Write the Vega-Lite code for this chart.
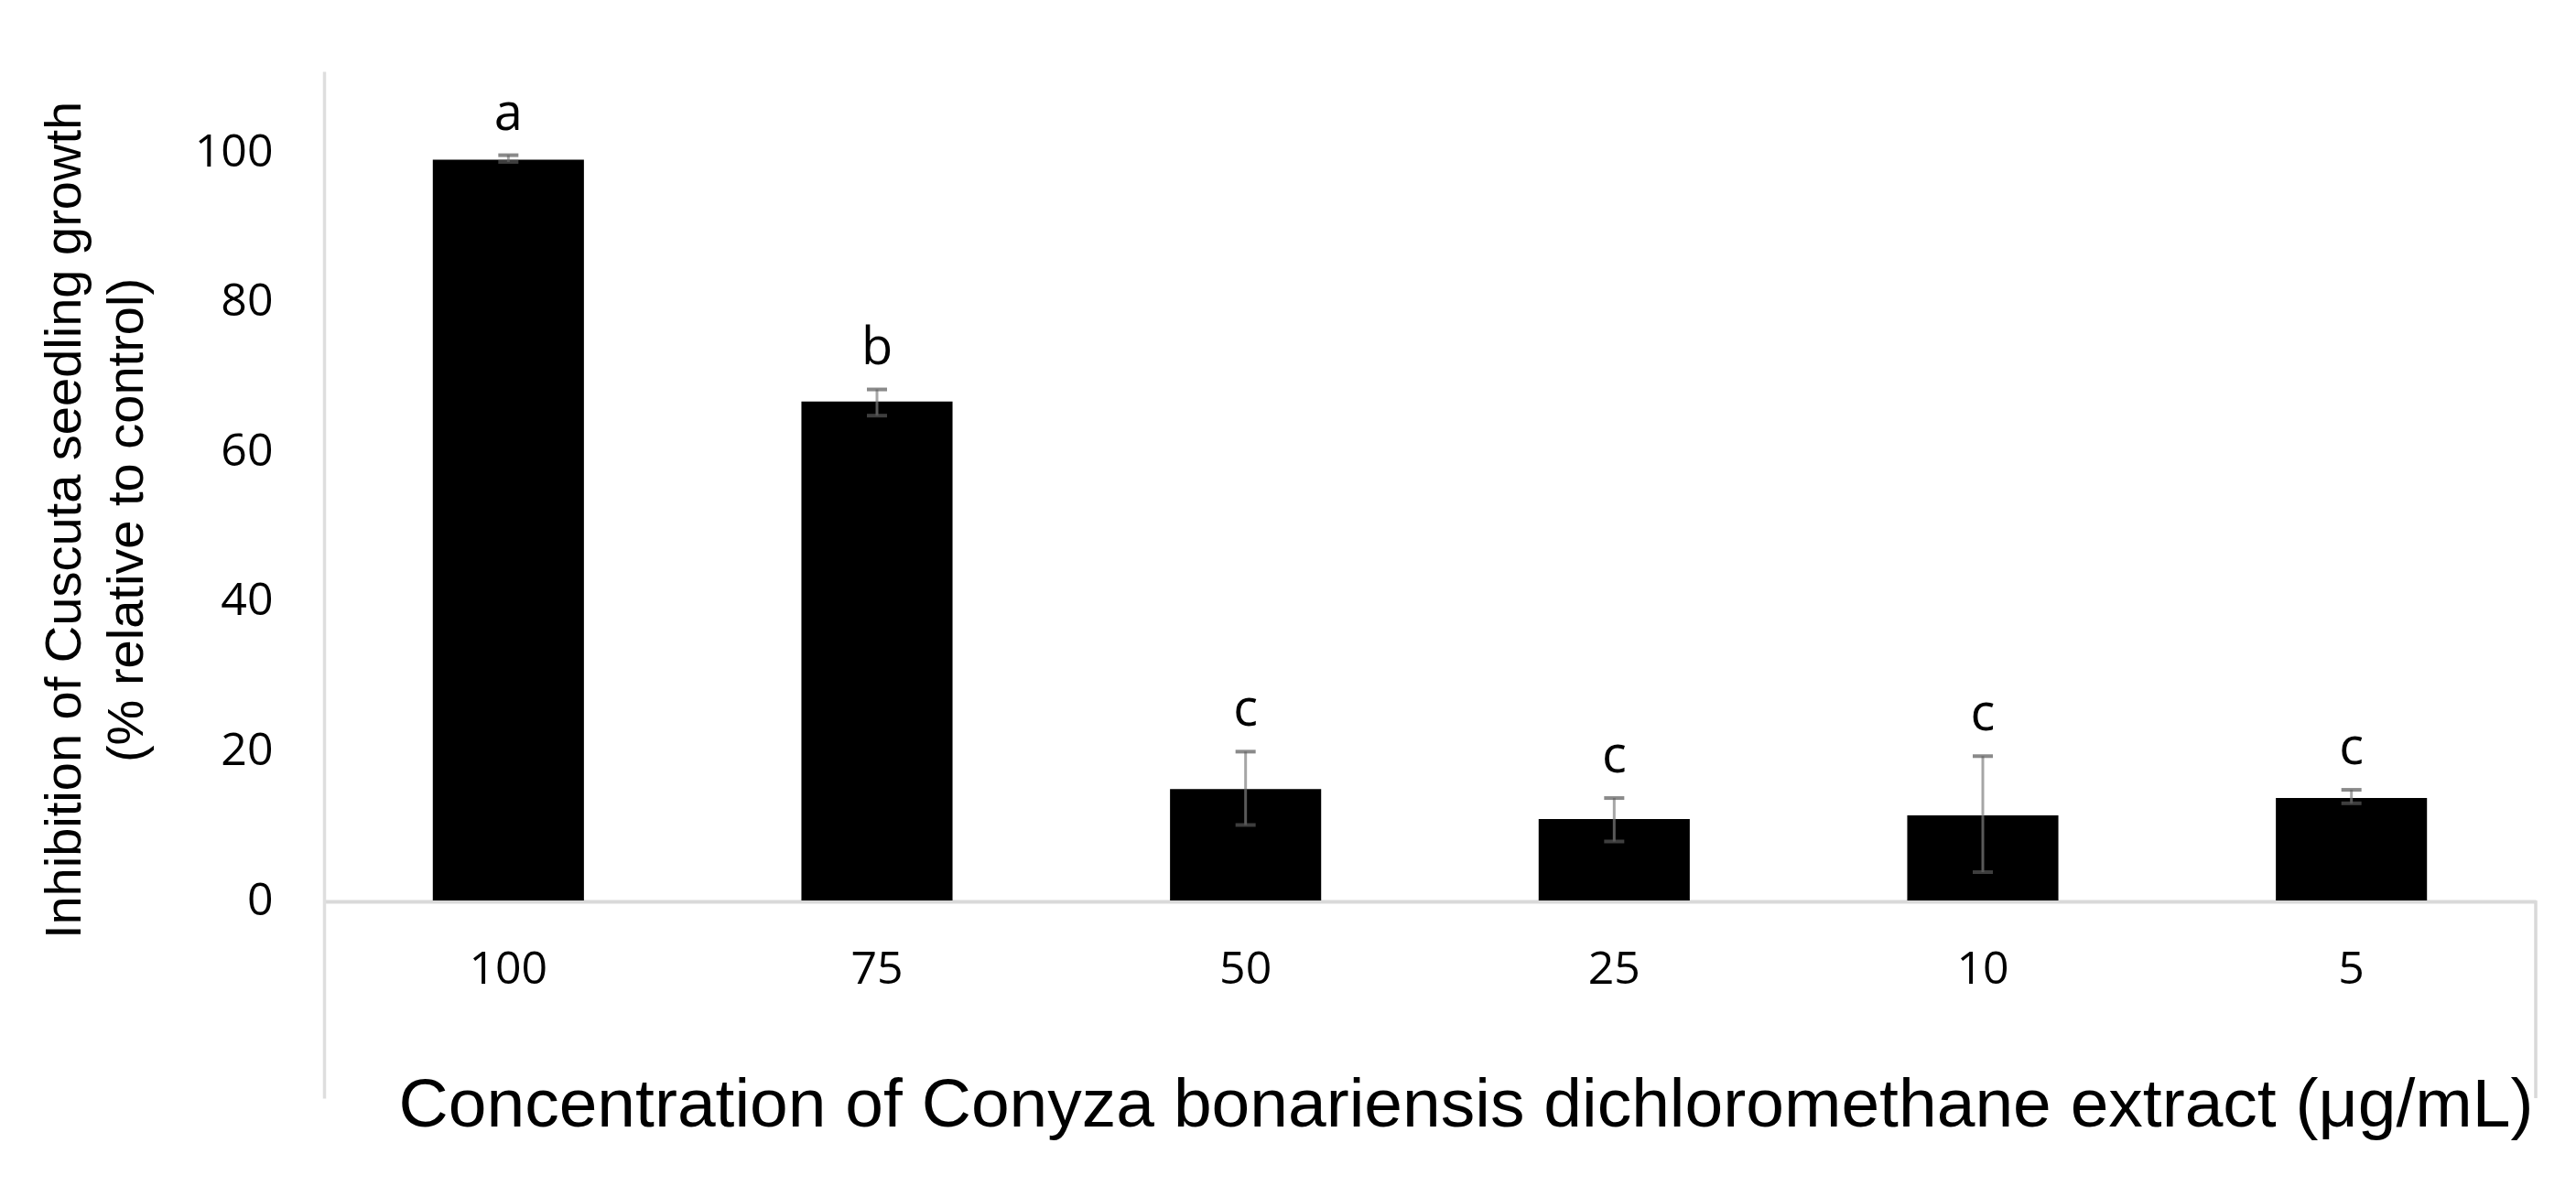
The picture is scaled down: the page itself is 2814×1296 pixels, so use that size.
{
  "$schema": "https://vega.github.io/schema/vega-lite/v6.json",
  "width": 2416,
  "height": 1122,
  "autosize": {"type": "none"},
  "padding": {"left": 354, "top": 78, "right": 44, "bottom": 96},
  "background": "white",
  "config": {"view": {"stroke": null}},
  "data": {
    "values": [
      {"conc": "100", "mean": 99.0, "lower": 98.7, "upper": 99.6, "letter": "a"},
      {"conc": "75", "mean": 66.7, "lower": 64.8, "upper": 68.3, "letter": "b"},
      {"conc": "50", "mean": 14.9, "lower": 10.1, "upper": 19.9, "letter": "c"},
      {"conc": "25", "mean": 10.9, "lower": 7.9, "upper": 13.7, "letter": "c"},
      {"conc": "10", "mean": 11.4, "lower": 3.8, "upper": 19.3, "letter": "c"},
      {"conc": "5", "mean": 13.7, "lower": 13.0, "upper": 14.8, "letter": "c"}
    ]
  },
  "encoding": {
    "x": {
      "field": "conc",
      "type": "nominal",
      "sort": null,
      "scale": {"paddingInner": 0.59, "paddingOuter": 0.295},
      "axis": {
        "title": "Concentration of Conyza bonariensis dichloromethane extract  (μg/mL)",
        "titleFont": "Liberation Sans",
        "titleFontSize": 75,
        "titleFontWeight": "normal",
        "titleColor": "black",
        "titleBaseline": "alphabetic",
        "titleAlign": "center",
        "titleX": 1247,
        "titleY": 245,
        "labelFont": "Open Sans",
        "labelFontSize": 50,
        "labelColor": "black",
        "labelAngle": 0,
        "labelPadding": 49,
        "labelBaseline": "top",
        "ticks": false,
        "domain": true,
        "domainColor": "#d9d9d9",
        "domainWidth": 4,
        "offset": -215
      }
    }
  },
  "layer": [
    {
      "mark": {"type": "bar", "color": "black"},
      "encoding": {
        "y": {
          "field": "mean",
          "type": "quantitative",
          "scale": {"domain": [-26.4, 110.8], "nice": false, "zero": false},
          "axis": {
            "values": [0, 20, 40, 60, 80, 100],
            "title": ["Inhibition of Cuscuta seedling growth", "(% relative to control)"],
            "titleFont": "Liberation Sans",
            "titleFontSize": 56,
            "titleFontWeight": "normal",
            "titleColor": "black",
            "titleBaseline": "alphabetic",
            "titleLineHeight": 68,
            "titleAlign": "center",
            "titleAngle": -90,
            "titleX": -267,
            "titleY": 490,
            "labelFont": "Open Sans",
            "labelFontSize": 50,
            "labelColor": "black",
            "labelPadding": 56,
            "ticks": false,
            "grid": false,
            "domainColor": "#dedede",
            "domainWidth": 3.5
          }
        },
        "y2": {"datum": 0}
      }
    },
    {
      "mark": {"type": "rule", "color": "#a6a6a6", "strokeWidth": 3},
      "encoding": {
        "y": {"field": "upper", "type": "quantitative"},
        "y2": {"field": "mean"}
      }
    },
    {
      "mark": {"type": "rule", "color": "#595959", "strokeWidth": 3},
      "encoding": {
        "y": {"field": "mean", "type": "quantitative"},
        "y2": {"field": "lower"}
      }
    },
    {
      "mark": {"type": "tick", "orient": "horizontal", "size": 22, "thickness": 4, "color": "#595959"},
      "encoding": {
        "y": {"field": "upper", "type": "quantitative"}
      }
    },
    {
      "mark": {"type": "tick", "orient": "horizontal", "size": 22, "thickness": 4, "color": "#595959"},
      "encoding": {
        "y": {"field": "lower", "type": "quantitative"}
      }
    },
    {
      "mark": {"type": "text", "font": "Open Sans", "fontSize": 56, "baseline": "alphabetic", "dy": -28, "color": "black"},
      "encoding": {
        "y": {"field": "upper", "type": "quantitative"},
        "text": {"field": "letter"}
      }
    },
    {
      "data": {"values": [{}]},
      "mark": {"type": "rule", "color": "#d9d9d9", "strokeWidth": 3.5},
      "encoding": {
        "x": {"value": "width"},
        "y": {"datum": 0},
        "y2": {"datum": -26.4}
      }
    }
  ]
}
